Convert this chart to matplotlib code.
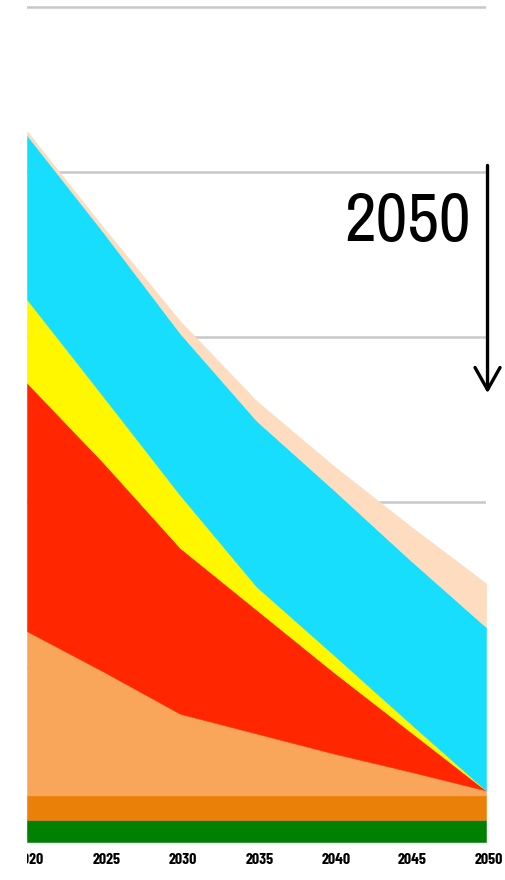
import numpy as np
import matplotlib
matplotlib.use("Agg")
import matplotlib.pyplot as plt
from matplotlib.transforms import Bbox, TransformedBbox, ScaledTranslation

# ---- data ----
years = [2020, 2025, 2030, 2035, 2040, 2045, 2050]
base = -1.2
green = [2.65, 2.65, 2.65, 2.65, 2.65, 2.65, 2.65]
orange = [3.0, 3.0, 3.0, 3.0, 3.0, 3.0, 3.0]
sandy = [19.9, 15.0, 9.9, 7.5, 5.1, 2.9, 0.6]
red = [30.1, 25.3, 20.1, 15.0, 9.9, 4.9, 0.0]
yellow = [10.1, 8.0, 6.4, 2.8, 2.1, 1.0, 0.0]
cyan = [19.9, 19.9, 19.6, 20.1, 20.0, 19.8, 19.8]
peach = [0.5, 0.6, 1.5, 2.4, 2.9, 4.1, 5.3]
layers = [green, orange, sandy, red, yellow, cyan, peach]
colors = ["#008000", "#EB8008", "#F9A65A", "#FF2600", "#FFF700", "#17DEFD", "#FDDCC0"]
xticks = [2020, 2025, 2030, 2035, 2040, 2045, 2050]
grid_values = [0, 20, 40, 60, 80, 100]
annot_text = "2050"

tick_fonts = ["Barlow Condensed", "DejaVu Sans"]
big_fonts = ["Archivo Narrow", "Liberation Sans", "DejaVu Sans"]

fig = plt.figure(figsize=(5.06, 8.80), dpi=100)
ax = fig.add_axes([27 / 506, 38 / 880, 459 / 506, 842 / 880])

x = np.array(years, dtype=float)
lower = np.full(len(years), base)
for vals, col in zip(layers, colors):
    upper = lower + np.array(vals, dtype=float)
    ax.fill_between(x, lower, upper, facecolor=col, edgecolor=col, linewidth=0.4, zorder=2)
    lower = upper

ax.set_xlim(2020, 2050)
ax.set_ylim(base, 100.85)
ax.set_yticks(grid_values)
ax.set_yticklabels([])
ax.yaxis.grid(True, color="#c8c8c8", linewidth=1.8, zorder=0)
ax.set_axisbelow(True)
ax.set_xticks(xticks)
ax.set_xticklabels([str(t) for t in xticks], family=tick_fonts, fontsize=11.5, fontweight="bold")
ax.tick_params(axis="both", length=0, pad=8)
for s in ax.spines.values():
    s.set_visible(False)

# clip tick labels at the left edge like the reference crop, nudge slightly right
clipbox = TransformedBbox(Bbox([[27 / 506, 0], [1, 1]]), fig.transFigure)
shift = ScaledTranslation(3 / 100, 0, fig.dpi_scale_trans)
for lab in ax.get_xticklabels():
    lab.set_transform(lab.get_transform() + shift)
    lab.set_clip_box(clipbox)
    lab.set_clip_on(True)

# annotation text and arrow
ax.text(2049.0, 71.6, annot_text, ha="right", va="baseline", fontsize=50,
        family=big_fonts, fontweight="light", color="black", zorder=5)
ax.annotate("", xy=(2050.1, 53.2), xytext=(2050.1, 80.8),
            arrowprops=dict(arrowstyle="->, head_length=0.8, head_width=0.45",
                            lw=2.4, color="black", mutation_scale=20,
                            shrinkA=0, shrinkB=0),
            annotation_clip=False, zorder=5)

fig.savefig("out.png", dpi=100)
